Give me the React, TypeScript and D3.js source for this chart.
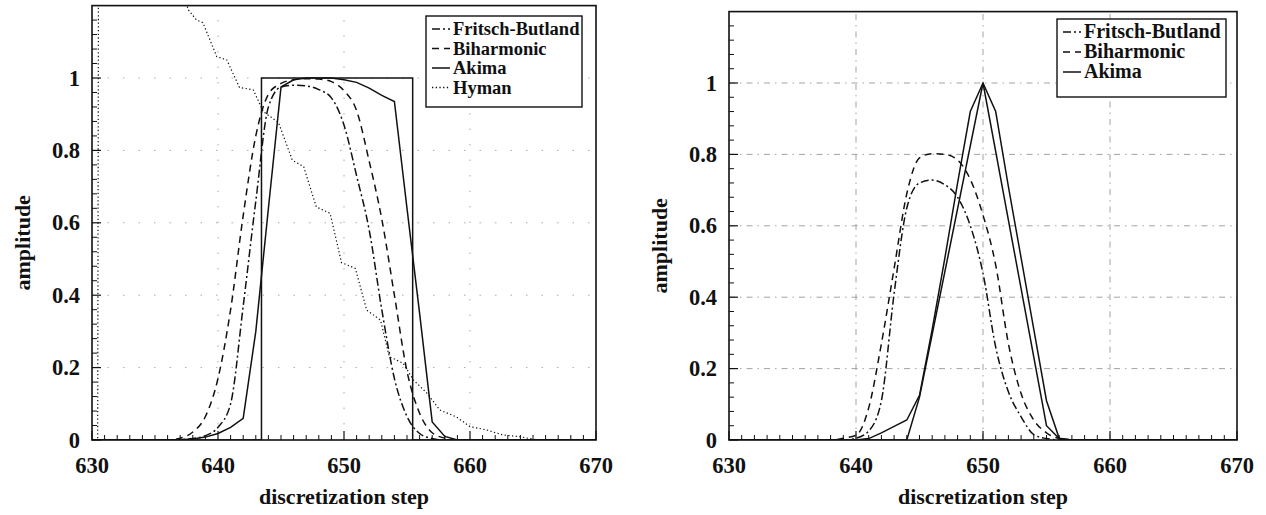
import React from "react";
import * as d3 from "d3";

const xTicks = [630, 640, 650, 660, 670];
const yTicks = [0, 0.2, 0.4, 0.6, 0.8, 1];
const legendLeft = ["Fritsch-Butland", "Biharmonic", "Akima", "Hyman"];
const legendRight = ["Fritsch-Butland", "Biharmonic", "Akima"];

type P = [number, number];

const leftRect: P[] = [[630, 0], [643.45, 0], [643.45, 1], [655.45, 1], [655.45, 0], [670, 0]];
const leftFritsch: P[] = [[630, 0], [636, 0], [637, 0.001], [638, 0.004], [639, 0.012], [640, 0.035], [641, 0.1], [642, 0.37], [643, 0.66], [644, 0.92], [645, 0.975], [646, 0.98], [647, 0.978], [648, 0.968], [649, 0.945], [650, 0.87], [651, 0.73], [652, 0.58], [653, 0.36], [654, 0.17], [655, 0.065], [656, 0.018], [657, 0.004], [658, 0], [670, 0]];
const leftBiharmonic: P[] = [[630, 0], [636, 0], [637, 0.005], [638, 0.022], [639, 0.065], [640, 0.17], [641, 0.36], [642, 0.62], [643, 0.84], [644, 0.955], [645, 0.985], [646, 0.995], [647, 0.998], [648, 0.997], [649, 0.99], [650, 0.965], [651, 0.91], [652, 0.77], [653, 0.61], [654, 0.4], [655, 0.19], [656, 0.074], [657, 0.02], [658, 0.005], [659, 0], [670, 0]];
const leftAkima: P[] = [[630, 0], [636, 0], [637, 0.001], [638, 0.003], [639, 0.008], [640, 0.018], [641, 0.035], [642, 0.06], [643, 0.3], [644, 0.64], [645, 0.975], [646, 0.995], [647, 1.0], [648, 1.0], [649, 1.0], [650, 0.995], [651, 0.988], [652, 0.972], [653, 0.952], [654, 0.935], [655, 0.64], [656, 0.35], [657, 0.05], [658, 0.01], [659, 0], [670, 0]];
const leftHyman: P[] = [[630, 0], [630.45, 0], [630.6, 3], [637.2, 1.3], [637.6, 1.19], [638.3, 1.16], [638.8, 1.153], [639.9, 1.059], [640.7, 1.05], [641.7, 0.974], [642.8, 0.967], [643.6, 0.907], [644.8, 0.877], [645.9, 0.773], [646.8, 0.755], [647.8, 0.644], [648.9, 0.626], [649.8, 0.49], [650.9, 0.474], [651.8, 0.359], [652.9, 0.331], [653.6, 0.23], [654.7, 0.212], [655.5, 0.166], [656.6, 0.129], [657.6, 0.083], [658.9, 0.064], [660, 0.037], [661.3, 0.028], [662.6, 0.014], [664, 0.009], [665.3, 0], [670, 0]];

const rightTriangle: P[] = [[630, 0], [644, 0], [645, 0.12], [650, 1], [655, 0.04], [656, 0.004], [657, 0], [670, 0]];
const rightAkima: P[] = [[630, 0], [640, 0], [641, 0.004], [642, 0.02], [643, 0.038], [644, 0.056], [645, 0.125], [646, 0.31], [647, 0.51], [648, 0.72], [649, 0.92], [650, 1], [651, 0.92], [652, 0.71], [653, 0.51], [654, 0.31], [655, 0.11], [656, 0.005], [657, 0], [670, 0]];
const rightFritsch: P[] = [[630, 0], [639, 0], [640, 0.005], [641, 0.025], [642, 0.11], [643, 0.41], [644, 0.65], [645, 0.72], [646, 0.728], [647, 0.715], [648, 0.68], [649, 0.6], [650, 0.467], [651, 0.26], [652, 0.135], [653, 0.065], [654, 0.015], [655, 0.004], [656, 0], [670, 0]];
const rightBiharmonic: P[] = [[630, 0], [638, 0], [639, 0.005], [640, 0.013], [641, 0.09], [642, 0.27], [643, 0.48], [644, 0.69], [645, 0.79], [646, 0.802], [647, 0.8], [648, 0.784], [649, 0.73], [650, 0.63], [651, 0.49], [652, 0.27], [653, 0.13], [654, 0.056], [655, 0.02], [656, 0.004], [657, 0], [670, 0]];

const FONT = "'Liberation Serif', 'Times New Roman', serif";

const STYLES: Record<string, string | undefined> = {
  "Fritsch-Butland": "8,3,2,3",
  Biharmonic: "7,5",
  Akima: undefined,
  Hyman: "1.3,2.4",
};

interface Series { name: string; data: P[]; smooth: boolean; }

interface PanelProps {
  id: string;
  xr: [number, number];
  yr: [number, number];
  series: Series[];
  legend: string[];
  legendBox: { x: number; y: number; w: number; h: number; row: number; fs: number };
  gridStyle: "dots" | "dashdot";
  titleX: number;
}

function Panel({ id, xr, yr, series, legend, legendBox, gridStyle, titleX }: PanelProps) {
  const x = d3.scaleLinear().domain([630, 670]).range(xr);
  const y = d3.scaleLinear().domain([0, 1.2]).range(yr);
  const [x0, x1] = xr;
  const [yb, yt] = yr;
  const minorX = d3.range(631, 670, 1).filter((v) => v % 10 !== 0);
  const minorY = d3.range(0.04, 1.2, 0.04).filter((v) => Math.abs(v * 5 - Math.round(v * 5)) > 1e-6);
  const lineLin = d3.line<P>().x((d) => x(d[0])).y((d) => y(d[1]));
  const lineSmooth = d3.line<P>().x((d) => x(d[0])).y((d) => y(d[1])).curve(d3.curveMonotoneX);
  const gridProps = gridStyle === "dots"
    ? { stroke: "#aaa", strokeWidth: 1, strokeDasharray: "1.5,14" }
    : { stroke: "#999", strokeWidth: 0.9, strokeDasharray: "6,5,1.5,5" };
  return (
    <g>
      <defs>
        <clipPath id={id}>
          <rect x={x0} y={yt} width={x1 - x0} height={yb - yt} />
        </clipPath>
      </defs>
      {xTicks.slice(1, -1).map((t) => (
        <line key={"gx" + t} x1={x(t)} x2={x(t)} y1={yb} y2={yt} {...gridProps} />
      ))}
      {yTicks.slice(1).map((t) => (
        <line key={"gy" + t} x1={x0} x2={x1} y1={y(t)} y2={y(t)} {...gridProps} />
      ))}
      <g clipPath={`url(#${id})`}>
        {series.map((s, i) => (
          <path
            key={i}
            d={(s.smooth ? lineSmooth : lineLin)(s.data) || ""}
            fill="none"
            stroke="#111"
            strokeWidth={s.name === "Hyman" ? 1.2 : 1.5}
            strokeDasharray={STYLES[s.name]}
          />
        ))}
      </g>
      <rect x={x0} y={yt} width={x1 - x0} height={yb - yt} fill="none" stroke="#111" strokeWidth={1.6} />
      {minorX.map((t) => (
        <line key={"mx" + t} x1={x(t)} x2={x(t)} y1={yb} y2={yb - 5} stroke="#111" strokeWidth={1} />
      ))}
      {xTicks.map((t) => (
        <line key={"Mx" + t} x1={x(t)} x2={x(t)} y1={yb} y2={yb - 9} stroke="#111" strokeWidth={1.2} />
      ))}
      {minorY.map((t) => (
        <line key={"my" + t} x1={x0} x2={x0 + 5} y1={y(t)} y2={y(t)} stroke="#111" strokeWidth={1} />
      ))}
      {yTicks.map((t) => (
        <line key={"My" + t} x1={x0} x2={x0 + 9} y1={y(t)} y2={y(t)} stroke="#111" strokeWidth={1.2} />
      ))}
      {xTicks.map((t) => (
        <text key={"lx" + t} x={x(t)} y={yb + 33} textAnchor="middle" fontFamily={FONT} fontWeight="bold" fontSize={22.5} fill="#111">
          {t}
        </text>
      ))}
      {yTicks.map((t) => (
        <text key={"ly" + t} x={x0 - 12} y={y(t) + 7.5} textAnchor="end" fontFamily={FONT} fontWeight="bold" fontSize={22.5} fill="#111">
          {t === 0 ? "0" : t === 1 ? "1" : t.toFixed(1)}
        </text>
      ))}
      <text x={(x0 + x1) / 2} y={504} textAnchor="middle" fontFamily={FONT} fontWeight="bold" fontSize={22} fill="#111">
        discretization step
      </text>
      <text transform={`translate(${titleX},${(yb + yt) / 2 + 20}) rotate(-90)`} textAnchor="middle" fontFamily={FONT} fontWeight="bold" fontSize={22} fill="#111">
        amplitude
      </text>
      <rect x={legendBox.x} y={legendBox.y} width={legendBox.w} height={legendBox.h} fill="#fff" stroke="#111" strokeWidth={1.4} />
      {legend.map((name, i) => {
        const cy = legendBox.y + 13 + i * legendBox.row;
        return (
          <g key={name}>
            <line x1={legendBox.x + 6} x2={legendBox.x + 24} y1={cy} y2={cy} stroke="#111" strokeWidth={1.5} strokeDasharray={STYLES[name]} />
            <text x={legendBox.x + 27} y={cy + 6} fontFamily={FONT} fontWeight="bold" fontSize={legendBox.fs} fill="#111">
              {name}
            </text>
          </g>
        );
      })}
    </g>
  );
}

export default function App() {
  const leftSeries: Series[] = [
    { name: "Akima", data: leftRect, smooth: false },
    { name: "Fritsch-Butland", data: leftFritsch, smooth: true },
    { name: "Biharmonic", data: leftBiharmonic, smooth: true },
    { name: "Akima", data: leftAkima, smooth: false },
    { name: "Hyman", data: leftHyman, smooth: false },
  ];
  const rightSeries: Series[] = [
    { name: "Akima", data: rightTriangle, smooth: false },
    { name: "Fritsch-Butland", data: rightFritsch, smooth: true },
    { name: "Biharmonic", data: rightBiharmonic, smooth: true },
    { name: "Akima", data: rightAkima, smooth: false },
  ];
  return (
    <svg width={1266} height={515} style={{ position: "absolute", left: 0, top: 0, background: "#fff" }}>
      <rect width={1266} height={515} fill="#fff" />
      <Panel
        id="clipL"
        xr={[92, 596]}
        yr={[440, 5.6]}
        series={leftSeries}
        legend={legendLeft}
        legendBox={{ x: 426, y: 16, w: 156, h: 91, row: 19.5, fs: 18.5 }}
        gridStyle="dots"
        titleX={30}
      />
      <Panel
        id="clipR"
        xr={[729, 1237]}
        yr={[440, 11.6]}
        series={rightSeries}
        legend={legendRight}
        legendBox={{ x: 1057, y: 19, w: 169, h: 78, row: 20, fs: 20 }}
        gridStyle="dashdot"
        titleX={667}
      />
    </svg>
  );
}
